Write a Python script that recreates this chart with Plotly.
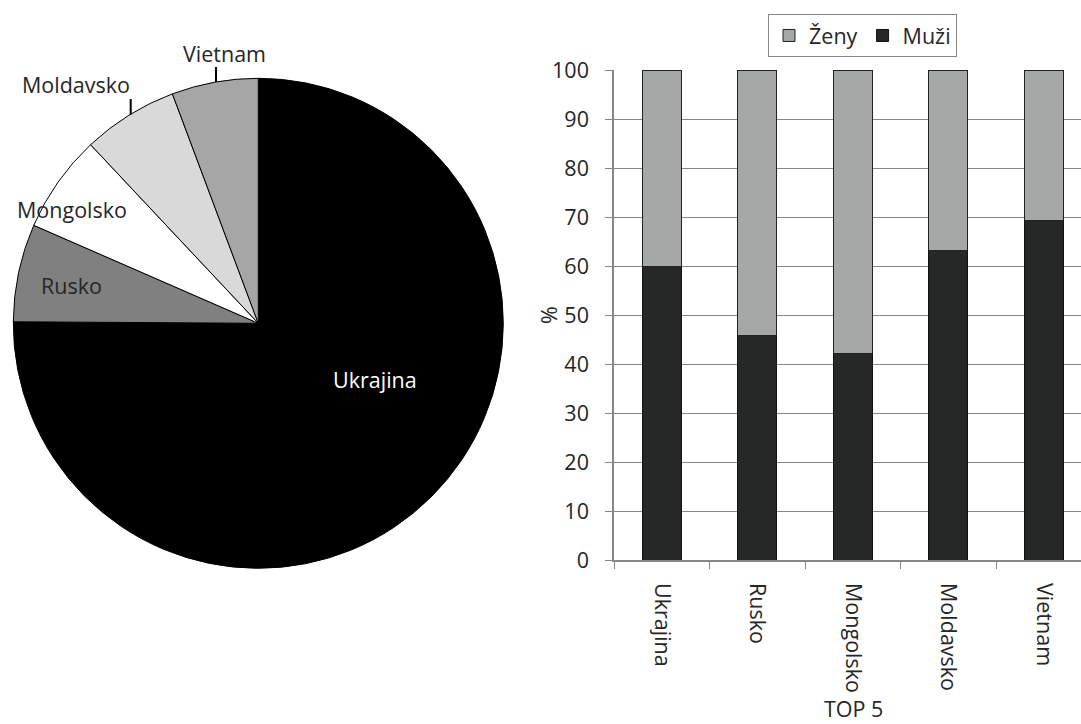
import plotly.graph_objects as go

W, H = 1081, 724

# ---- data ----
countries = ["Ukrajina", "Rusko", "Mongolsko", "Moldavsko", "Vietnam"]
pie_share = [75.1, 6.45, 6.45, 6.3, 5.7]
pie_colors = ["#000000", "#808080", "#ffffff", "#d9d9d9", "#a6a6a6"]
muzi = [59.8, 45.9, 42.2, 63.1, 69.3]
zeny = [round(100 - v, 1) for v in muzi]
y_ticks = [0, 10, 20, 30, 40, 50, 60, 70, 80, 90, 100]

FONT = "Open Sans"
FS = 21.5
TXT = "#262626"
GRID = "#878787"

def px(x):
    return x / W

def py(y):
    return 1 - y / H

fig = go.Figure()

# pie: center (258.3, 323.3), radius 245
cx, cy, r = 258.3, 323.3, 245
fig.add_trace(go.Pie(
    labels=countries, values=pie_share, sort=False, direction="clockwise",
    rotation=0, textinfo="none", hoverinfo="label+percent",
    marker=dict(colors=pie_colors, line=dict(color="#000000", width=1)),
    domain=dict(x=[px(cx - r), px(cx + r)], y=[py(cy + r), py(cy - r)]),
    showlegend=False, automargin=False,
))

fig.add_trace(go.Bar(
    x=countries, y=muzi, name="Muži", marker=dict(color="#262827", line=dict(color="#111111", width=1)),
    width=0.405, xaxis="x", yaxis="y",
))
fig.add_trace(go.Bar(
    x=countries, y=zeny, name="Ženy", marker=dict(color="#a6a8a7", line=dict(color="#222222", width=1)),
    width=0.405, xaxis="x", yaxis="y",
))

annotations = []
pie_labels = [
    ("Ukrajina", 375, 379, "#ffffff"),
    ("Rusko", 71.7, 285, TXT),
    ("Mongolsko", 72, 209, TXT),
    ("Moldavsko", 76, 84.5, TXT),
    ("Vietnam", 224.7, 53, TXT),
]
for t, x, y, c in pie_labels:
    annotations.append(dict(text=t, x=px(x), y=py(y), xref="paper", yref="paper",
                            showarrow=False, xanchor="center", yanchor="middle",
                            font=dict(family=FONT, size=FS, color=c)))
annotations.append(dict(text="TOP 5", x=px(853), y=0, xref="paper", yref="paper",
                        showarrow=False, xanchor="center", yanchor="bottom", borderpad=0,
                        font=dict(family=FONT, size=FS, color=TXT)))
annotations.append(dict(text="%", x=px(548), y=py(315), xref="paper", yref="paper",
                        showarrow=False, xanchor="center", yanchor="middle", textangle=-90,
                        font=dict(family=FONT, size=FS, color=TXT)))

shapes = [
    dict(type="line", xref="paper", yref="paper", x0=px(216), x1=px(216), y0=py(67), y1=py(82),
         line=dict(color="#000000", width=2)),
    dict(type="line", xref="paper", yref="paper", x0=px(130.7), x1=px(130.7), y0=py(99), y1=py(114.5),
         line=dict(color="#000000", width=2)),
]

fig.update_layout(
    width=W, height=H, margin=dict(l=0, r=0, t=0, b=0, pad=0),
    paper_bgcolor="white", plot_bgcolor="white",
    font=dict(family=FONT, size=FS, color=TXT),
    barmode="stack", bargap=0.6,
    xaxis=dict(domain=[px(614), 1], range=[-0.5, 4.39], type="category",
               tickangle=90, tickson="boundaries", ticks="outside", ticklen=7,
               tickcolor=GRID, showline=True, linecolor=GRID, linewidth=1.5,
               showgrid=False, tickfont=dict(family=FONT, size=FS, color=TXT),
               ticklabelstandoff=17, anchor="y", automargin=False),
    yaxis=dict(domain=[py(560), py(70)], range=[0, 100], tickvals=y_ticks,
               ticks="outside", ticklen=7, tickcolor=GRID, showline=True,
               linecolor=GRID, linewidth=1.5, showgrid=True, gridcolor=GRID, gridwidth=1,
               zeroline=False, tickfont=dict(family=FONT, size=FS, color=TXT),
               ticklabelstandoff=12, anchor="x", automargin=False),
    legend=dict(orientation="h", x=px(862.5), y=py(14), xanchor="center", yanchor="top",
                traceorder="reversed", bordercolor=GRID, borderwidth=1, bgcolor="white",
                font=dict(family=FONT, size=FS, color=TXT)),
    annotations=annotations, shapes=shapes,
)

fig.write_html("out.html", config={"displayModeBar": False},
               post_script="document.body.style.margin='0';")
